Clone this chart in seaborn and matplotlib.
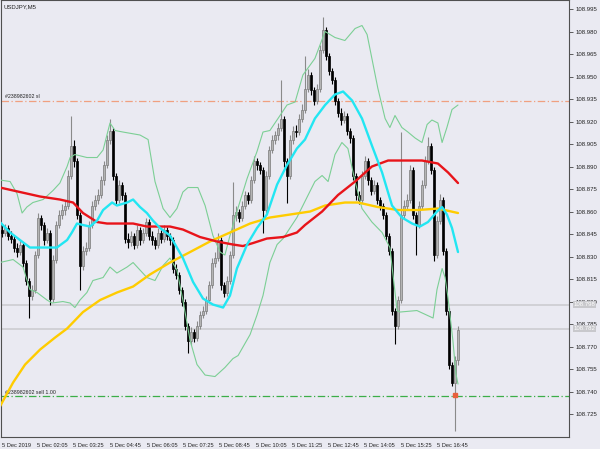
import numpy as np
import matplotlib
matplotlib.use("Agg")
import matplotlib.pyplot as plt
import seaborn as sns

# USDJPY M5 candles, values in 0.001 above BASE (open = previous close)
BASE = 108.700
first_open = 148
closes = [146, 149, 144, 142, 136, 133, 138, 126, 114, 104,
          108, 131, 156, 151, 141, 146, 102, 128, 151, 158,
          161, 164, 184, 204, 194, 158, 124, 134, 136, 151,
          164, 168, 171, 181, 191, 208, 214, 184, 168, 178,
          171, 142, 140, 144, 138, 148, 141, 146, 153, 144,
          141, 138, 146, 142, 148, 144, 141, 122, 118, 108,
          100, 84, 74, 80, 76, 84, 91, 94, 101, 111,
          126, 129, 141, 111, 106, 114, 131, 158, 160, 156,
          164, 171, 168, 181, 194, 191, 188, 161, 184, 201,
          208, 211, 216, 222, 194, 184, 208, 214, 213, 222,
          228, 242, 251, 241, 234, 242, 268, 281, 264, 254,
          248, 234, 226, 221, 224, 214, 209, 184, 171, 168,
          184, 194, 181, 174, 178, 168, 164, 158, 144, 134,
          94, 84, 101, 158, 164, 168, 188, 158, 151, 164,
          178, 194, 204, 188, 131, 154, 168, 134, 94, 58,
          46, 61, 81]
highs = [151, 152, 151, 147, 144, 139, 141, 140, 128, 116,
         111, 134, 159, 158, 153, 149, 148, 131, 154, 161,
         165, 168, 188, 224, 208, 196, 160, 137, 140, 154,
         167, 171, 175, 184, 194, 211, 222, 216, 186, 181,
         180, 173, 146, 147, 146, 151, 150, 149, 156, 155,
         147, 143, 149, 148, 151, 150, 146, 143, 125, 120,
         110, 102, 86, 83, 82, 87, 94, 97, 104, 114,
         129, 133, 146, 143, 113, 117, 134, 180, 164, 162,
         167, 174, 173, 184, 197, 196, 193, 190, 187, 204,
         211, 214, 219, 248, 224, 196, 211, 217, 218, 225,
         232, 264, 255, 253, 243, 245, 271, 290, 283, 266,
         256, 250, 236, 229, 227, 226, 216, 211, 186, 174,
         187, 197, 196, 183, 181, 180, 170, 166, 160, 146,
         136, 96, 104, 213, 168, 172, 191, 190, 160, 167,
         181, 197, 210, 206, 190, 157, 172, 170, 136, 96,
         60, 64, 84]
lows = [143, 144, 141, 139, 133, 130, 131, 123, 111, 89,
        101, 106, 129, 148, 138, 139, 98, 100, 126, 149,
        155, 158, 162, 182, 190, 155, 108, 121, 131, 134,
        149, 161, 165, 169, 178, 189, 205, 181, 165, 166,
        168, 139, 136, 137, 135, 136, 138, 139, 144, 141,
        138, 135, 136, 139, 140, 141, 138, 119, 115, 105,
        97, 81, 66, 71, 73, 74, 82, 89, 92, 99,
        109, 123, 127, 108, 103, 104, 112, 129, 154, 153,
        154, 162, 165, 166, 179, 188, 185, 146, 159, 182,
        199, 205, 208, 214, 190, 166, 182, 205, 210, 211,
        220, 226, 240, 238, 231, 232, 240, 266, 261, 251,
        245, 231, 223, 218, 219, 211, 206, 181, 168, 165,
        166, 182, 178, 171, 172, 165, 161, 155, 141, 131,
        91, 72, 82, 99, 155, 161, 166, 155, 131, 149,
        162, 176, 192, 185, 127, 129, 152, 131, 91, 55,
        44, 14, 58]

# indicator lines (bar position, value)
fast_pos = [-0.7, 2.7, 6, 9.3, 11.7, 15, 18.3, 21.7, 23.3, 25, 27, 29.3, 31.7, 33.7,
            36.7, 38.3, 41.7, 43.7, 46, 48.3, 50.3, 52.7, 56, 60.3, 63.7, 67, 70.3,
            73.7, 76, 78.3, 81.7, 85, 88.3, 91.7, 95, 98.3, 101, 104.3, 107.7, 111,
            113.7, 116.7, 120, 123.3, 126.7, 130, 133.3, 136.7, 139.3, 142, 145,
            146.7, 148.3, 150, 152]
fast_ma = [153, 146, 141, 136, 136, 136, 136, 141, 146, 152, 151, 150, 154, 161,
           166, 164, 166, 168, 163, 159, 154, 149, 144, 129, 113, 102, 98,
           96, 104, 122, 138, 149, 158, 178, 191, 202, 208, 222, 231, 238,
           240, 234, 222, 204, 186, 164, 156, 152, 150, 153, 160,
           163, 158, 149, 133]
slow_pos = [-0.7, 6, 12.7, 19.3, 23.7, 27, 31.7, 35, 39.3, 43.7, 48.3, 56, 60.3,
            66, 71.7, 77, 80.3, 83.7, 88.3, 93.7, 98.3, 101, 106.7, 112, 117.7,
            123.3, 128.7, 134.3, 140, 145.3, 148.7, 152]
slow_ma = [176, 173, 170, 168, 166, 159, 153, 152, 152, 152, 150, 150, 148,
           143, 140, 138, 137, 139, 142, 143, 146, 151, 160, 171, 180,
           190, 194, 194, 194, 192, 186, 179]
long_pos = [-0.7, 3.7, 7.7, 12.7, 17.7, 21.7, 27, 32.7, 38.3, 43.7, 49.3, 56, 62.7,
            69.3, 76, 82.7, 89.3, 96, 102.7, 107.7, 114.3, 118.7, 125.3, 132,
            138.7, 145.3, 152]
long_ma = [30, 46, 58, 68, 76, 82, 93, 101, 106, 110, 118, 126, 133,
           140, 146, 152, 156, 158, 160, 164, 166, 166, 163, 161,
           161, 162, 159]
bb_up_pos = [-0.7, 2.7, 5, 6.7, 8.3, 10.3, 13.7, 17, 19.3, 21.7, 22.7, 24.3, 28.3,
             31.7, 33.7, 36, 37.7, 40.3, 46, 48.7, 51, 53.7, 56, 58.3, 60.3, 62,
             65.3, 67.7, 70.3, 72.7, 74.3, 76, 78.3, 81.7, 85, 87, 89.3, 92, 95,
             97.7, 100.3, 104.3, 107.7, 111, 114.3, 117.7, 120, 121.7, 123.3,
             125.3, 127.7, 129.3, 131, 133.3, 135.3, 137.7, 140, 141.7, 143.3,
             145.3, 146.7, 148.3, 150, 152]
bb_up = [181, 180, 172, 159, 163, 166, 168, 174, 179, 190, 196, 198, 196,
         196, 201, 219, 214, 213, 211, 208, 180, 162, 156, 162, 173, 176,
         176, 164, 144, 133, 131, 144, 160, 182, 200, 213, 214, 222, 231,
         233, 251, 262, 280, 276, 274, 282, 284, 278, 262,
         242, 222, 216, 224, 216, 213, 209, 206, 218, 221,
         219, 206, 216, 228, 231]
bb_low_pos = [-0.7, 3.7, 7, 9.3, 11.7, 15, 16.7, 20.3, 22.7, 24.3, 26, 28.3, 30.3,
              33.7, 36, 38.3, 41.7, 43.7, 48.3, 51, 53.7, 56, 58.3, 60.3, 62.7,
              65, 67.7, 71, 74.3, 77, 78.7, 82.7, 85, 87, 89.3, 91.7, 93.7, 96,
              98.3, 100.3, 104.3, 106.7, 108.7, 111, 113.3, 115.3, 117.7, 120,
              123.3, 126.7, 129.3, 131.7, 132.7, 138.3, 143.7, 145, 146.7, 147.7,
              148.7, 150.3, 151.3, 152]
bb_low = [126, 128, 123, 108, 106, 101, 99, 100, 99, 96, 101, 106, 114,
          116, 123, 119, 123, 126, 116, 114, 124, 129, 121, 101, 74,
          58, 51, 50, 56, 62, 64, 78, 91, 104, 126, 138, 142, 149,
          156, 164, 180, 184, 180, 198, 206, 202, 180, 162,
          153, 146, 136, 94, 93, 94, 89, 108, 122, 116,
          102, 74, 52, 45]

# order levels and bid/ask
sl_level = 108.934
sell_level = 108.737
bid_level = 108.798
ask_level = 108.782
sell_bar = 151

tick_pos = [0, 11.67, 23.67, 36, 48.33, 60.33, 72.33, 84.67, 96.67, 108.67,
            120.67, 133, 145]
tick_labels = ["5 Dec 2019", "5 Dec 02:05", "5 Dec 03:25", "5 Dec 04:45",
               "5 Dec 06:05", "5 Dec 07:25", "5 Dec 08:45", "5 Dec 10:05",
               "5 Dec 11:25", "5 Dec 12:45", "5 Dec 14:05", "5 Dec 15:25",
               "5 Dec 16:45"]

bg = "#EAEAF2"
sns.set_style("dark", {"axes.facecolor": bg})
plt.rcParams["font.family"] = ["Liberation Sans", "DejaVu Sans"]

fig = plt.figure(figsize=(6, 4.49), dpi=100, facecolor=bg)
ax = fig.add_axes([1 / 600, 12 / 449, 568 / 600, 437 / 449])

def px(vals):
    return BASE + np.asarray(vals, dtype=float) / 1000.0

c = px(closes)
o = px([first_open] + closes[:-1])
h = px(highs)
l = px(lows)
idx = np.arange(len(c))
up = c >= o

# horizontal levels behind the candles
ax.axhline(bid_level, color="#cfcfd4", lw=1.3, zorder=1)
ax.axhline(ask_level, color="#cfcfd4", lw=1.3, zorder=1)
ax.axhline(sl_level, color="#f0a080", lw=0.9, ls=(0, (6, 2, 1, 2)), zorder=1)
ax.axhline(sell_level, color="#3cae48", lw=0.9, ls=(0, (6, 2, 1, 2)), zorder=1)

# candles
wick_col = np.where(up, "#8a8a8a", "#000000")
ax.vlines(idx, l, h, colors=wick_col, lw=0.8, zorder=2)
body_h = np.maximum(np.abs(c - o), 0.0004)
ax.bar(idx[up], body_h[up], bottom=np.minimum(o, c)[up], width=0.62,
       color="#b4b4b4", edgecolor="#7a7a7a", lw=0.5, zorder=3)
ax.bar(idx[~up], body_h[~up], bottom=np.minimum(o, c)[~up], width=0.62,
       color="#000000", edgecolor="#000000", lw=0.5, zorder=3)

# indicators
sns.lineplot(x=bb_up_pos, y=px(bb_up), color="#7ccf95", lw=0.8, ax=ax, zorder=4)
sns.lineplot(x=bb_low_pos, y=px(bb_low), color="#7ccf95", lw=0.8, ax=ax, zorder=4)
sns.lineplot(x=long_pos, y=px(long_ma), color="#ffcc00", lw=1.7, ax=ax, zorder=5)
sns.lineplot(x=slow_pos, y=px(slow_ma), color="#e8141a", lw=1.7, ax=ax, zorder=5)
sns.lineplot(x=fast_pos, y=px(fast_ma), color="#22e6f2", lw=1.7, ax=ax, zorder=6)

ax.plot(sell_bar, sell_level + 0.0007, marker="s", ms=2.2, color="#e8603c", zorder=7)

# level labels
ax.text(1, sl_level + 0.0008, "#238982602 sl", fontsize=3.8, color="#222222",
        va="bottom", ha="left")
ax.text(1, sell_level + 0.0008, "#238982602 sell 1.00", fontsize=3.8,
        color="#222222", va="bottom", ha="left")
ax.text(0.004, 0.984, "USDJPY,M5", transform=ax.transAxes, fontsize=4.3,
        color="#222222", va="center", ha="left")

ax.set_xlim(-0.33, 189)
ax.set_ylim(108.7097, 109.001)

ax.set_xticks(tick_pos)
ax.set_xticklabels(tick_labels, ha="left", fontsize=4.1, color="#222222")
yt = np.round(108.725 + 0.015 * np.arange(19), 3)
ax.yaxis.tick_right()
ax.set_yticks(yt)
ax.set_yticklabels([f"{v:.3f}" for v in yt], fontsize=4.3, color="#222222")
ax.tick_params(axis="both", length=3, width=0.6, color="#444444", pad=1.5,
               direction="out")
ax.set_xlabel("")
ax.set_ylabel("")

for t, lvl in [("108.798", bid_level), ("108.782", ask_level)]:
    ax.text(1.008, lvl, t, transform=ax.get_yaxis_transform(), fontsize=4.3,
            color="white", va="center", ha="left", clip_on=False,
            bbox=dict(boxstyle="square,pad=0.15", fc="#c8c8cc", ec="none"))

for s in ax.spines.values():
    s.set_visible(True)
    s.set_color("#505050")
    s.set_linewidth(0.8)

fig.savefig("out.png", dpi=100, facecolor=fig.get_facecolor())
